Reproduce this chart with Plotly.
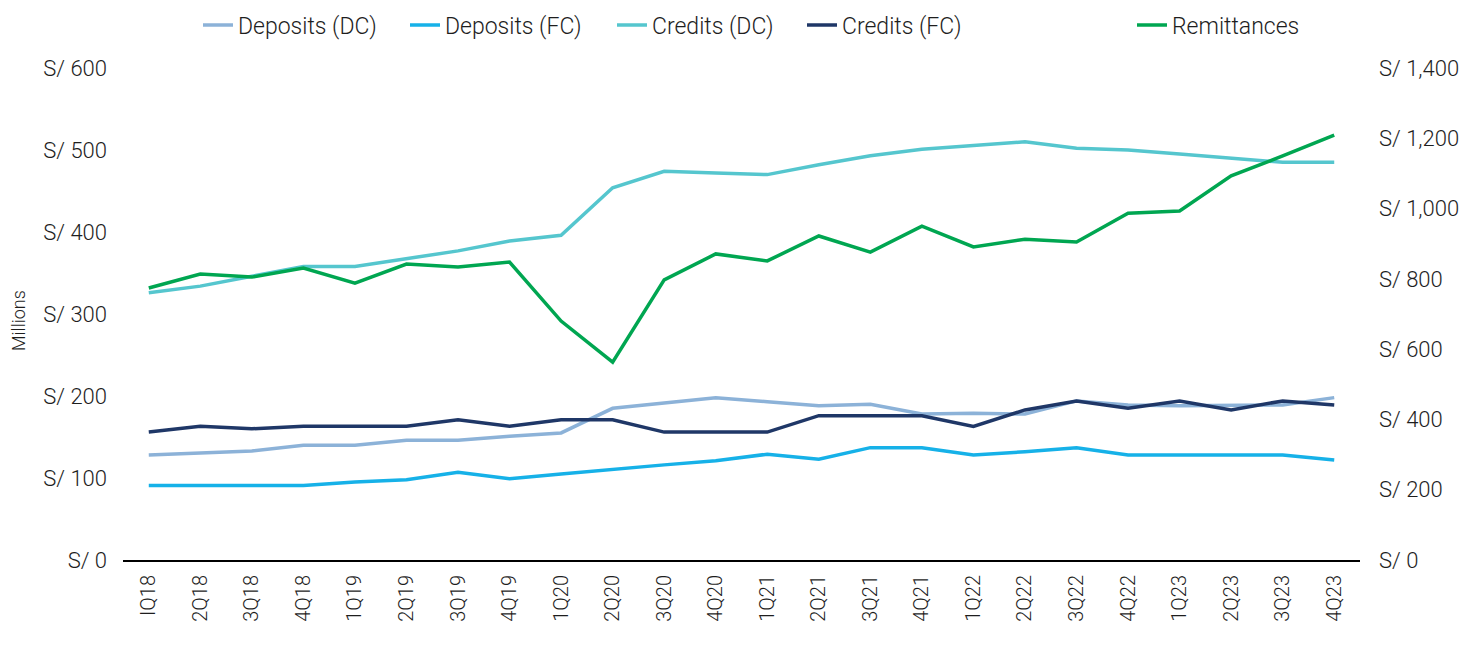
import plotly.graph_objects as go

quarters = ["IQ18", "2Q18", "3Q18", "4Q18", "1Q19", "2Q19", "3Q19", "4Q19",
            "1Q20", "2Q20", "3Q20", "4Q20", "1Q21", "2Q21", "3Q21", "4Q21",
            "1Q22", "2Q22", "3Q22", "4Q22", "1Q23", "2Q23", "3Q23", "4Q23"]

deposits_dc = [128, 130, 133, 140, 140, 146, 146, 151, 155, 185, 191, 198,
               193, 188, 190, 178, 179, 178, 194, 189, 188, 188, 189, 198]
deposits_fc = [91, 91, 91, 91, 95, 98, 107, 99, 105, 111, 116, 121,
               129, 123, 137, 137, 128, 132, 137, 128, 128, 128, 128, 122]
credits_dc = [326, 334, 346, 358, 358, 368, 377, 389, 396, 454, 474, 472,
              470, 482, 493, 501, 506, 510, 502, 500, 495, 490, 485, 485]
credits_fc = [156, 163, 160, 163, 163, 163, 171, 163, 171, 171, 156, 156,
              156, 176, 176, 176, 163, 183, 194, 185, 194, 183, 194, 189]
remittances = [774, 814, 805, 831, 788, 842, 834, 848, 680, 563, 797, 871,
               851, 922, 876, 950, 891, 913, 905, 987, 993, 1093, 1150, 1209]

left_ticks = [0, 100, 200, 300, 400, 500, 600]
left_labels = ["S/ 0", "S/ 100", "S/ 200", "S/ 300", "S/ 400", "S/ 500", "S/ 600"]
right_ticks = [0, 200, 400, 600, 800, 1000, 1200, 1400]
right_labels = ["S/ 0", "S/ 200", "S/ 400", "S/ 600", "S/ 800", "S/ 1,000", "S/ 1,200", "S/ 1,400"]

FONT = "Roboto"
TXT = "#1e1e1e"
LW = 3.5

# figure is 16px smaller than the window to allow for the page's body margin
W, H = 1466, 637
L, R, T, B = 115, 114, 60, 85
PW, PH = W - L - R, H - T - B

def px_x(x):
    return (x - L) / PW

def px_y(y):
    return (H - B - y) / PH

series = [
    ("Deposits (DC)", deposits_dc, "#8CB2D8", "y", "legend", 190),
    ("Deposits (FC)", deposits_fc, "#16B1E8", "y", "legend2", 397),
    ("Credits (DC)", credits_dc, "#55C6CE", "y", "legend3", 604),
    ("Credits (FC)", credits_fc, "#1F3767", "y", "legend4", 794),
    ("Remittances", remittances, "#00A651", "y2", "legend5", 1124),
]

fig = go.Figure()
legends = {}
for name, vals, col, yax, leg, lx in series:
    fig.add_trace(go.Scatter(x=quarters, y=vals, name=name, mode="lines",
                             line=dict(color=col, width=LW), yaxis=yax, legend=leg))
    legends[leg] = dict(orientation="h", xref="container", yref="container",
                        x=lx / W, y=1 - 17 / H,
                        xanchor="left", yanchor="middle",
                        font=dict(family=FONT, size=23, color=TXT, weight=300),
                        bgcolor="rgba(0,0,0,0)")

fig.update_layout(
    width=W, height=H,
    margin=dict(l=L, r=R, t=T, b=B),
    paper_bgcolor="white", plot_bgcolor="white",
    font=dict(family=FONT, size=22, color=TXT, weight=300),
    showlegend=True,
    xaxis=dict(type="category", range=[-0.5, 23.5], tickangle=-90,
               showline=True, linecolor="#000000", linewidth=2,
               showgrid=False, zeroline=False, ticks="", automargin=False,
               tickfont=dict(family=FONT, size=20, color=TXT, weight=300),
               ticklabelstandoff=5),
    yaxis=dict(range=[0, 600], tickvals=left_ticks, ticktext=left_labels,
               showgrid=False, zeroline=False, showline=False, ticks="",
               automargin=False,
               tickfont=dict(family=FONT, size=22, color=TXT, weight=300),
               ticklabelstandoff=15),
    yaxis2=dict(range=[0, 1400], tickvals=right_ticks, ticktext=right_labels,
                overlaying="y", side="right", showgrid=False, zeroline=False,
                showline=False, ticks="", automargin=False,
                tickfont=dict(family=FONT, size=22, color=TXT, weight=300),
                ticklabelstandoff=18),
    annotations=[dict(text="Millions", xref="paper", yref="paper",
                      x=px_x(10), y=px_y(313), textangle=-90,
                      showarrow=False,
                      font=dict(family=FONT, size=18, color=TXT, weight=300),
                      xanchor="center", yanchor="middle")],
    **legends,
)

fig.write_html("out.html")
